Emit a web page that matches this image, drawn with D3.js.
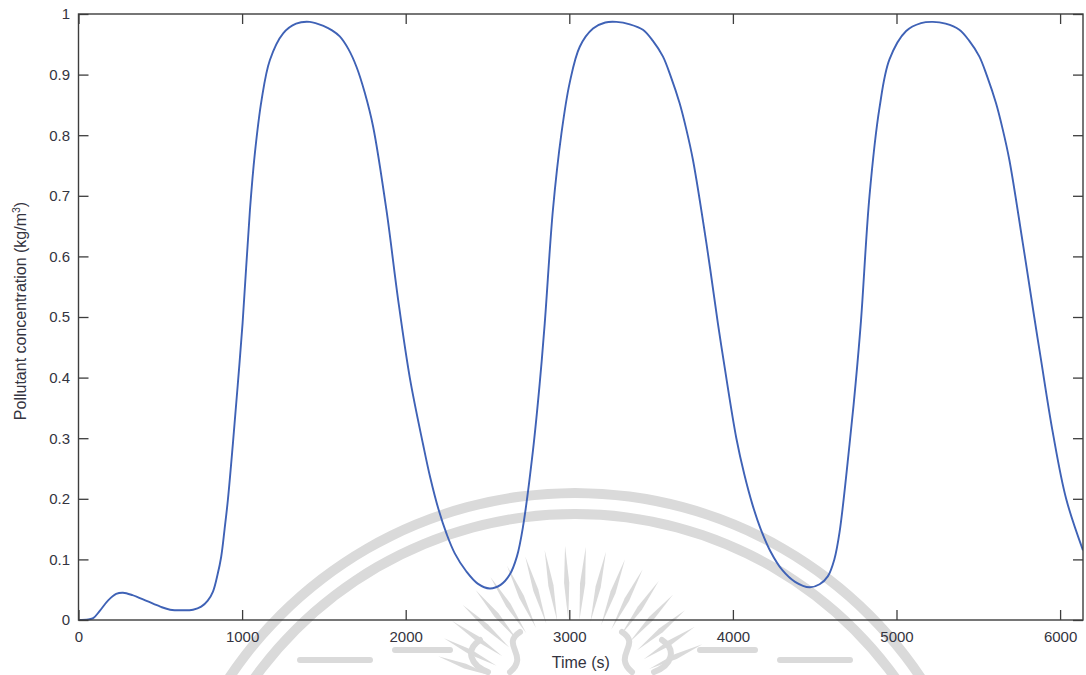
<!DOCTYPE html>
<html>
<head>
<meta charset="utf-8">
<script src="https://cdn.jsdelivr.net/npm/d3@7"></script>
<style>
  html, body { margin: 0; padding: 0; background: #ffffff; }
  svg { display: block; font-family: "Liberation Sans", Arial, Helvetica, sans-serif; }
</style>
</head>
<body>
<svg id="chart" width="1086" height="675"></svg>
<script>
// Simulated pollutant concentration at the outlet over time
const timeSeconds = [
  0, 60, 90, 130, 180, 230, 272, 330, 420, 500, 560, 640, 700, 750, 790, 822,
  850, 872, 893, 913, 944, 974, 1003, 1048, 1078, 1119, 1170, 1251, 1330, 1414,
  1500, 1550, 1597, 1650, 1699, 1750, 1801, 1882, 1954, 2025, 2106, 2150, 2200,
  2250, 2300, 2371, 2440, 2514, 2580, 2636, 2680, 2717, 2778, 2819, 2850, 2900,
  2952, 3002, 3064, 3145, 3220, 3288, 3370, 3450, 3510, 3572, 3620, 3674, 3715,
  3756, 3838, 3908, 3949, 4021, 4070, 4120, 4170, 4230, 4300, 4380, 4469, 4530,
  4580, 4620, 4652, 4713, 4750, 4783, 4835, 4896, 4957, 5059, 5150, 5222, 5300,
  5384, 5444, 5506, 5554, 5608, 5649, 5690, 5772, 5842, 5883, 5955, 6037, 6140
];
const concentration = [
  0, 0.001, 0.003, 0.015, 0.032, 0.043, 0.045, 0.041, 0.031, 0.022, 0.017, 0.016, 0.017, 0.022, 0.032, 0.047,
  0.075, 0.104, 0.15, 0.198, 0.292, 0.39, 0.49, 0.677, 0.77, 0.858, 0.924, 0.968, 0.984, 0.987,
  0.98, 0.973, 0.963, 0.942, 0.913, 0.87, 0.814, 0.677, 0.528, 0.40, 0.29, 0.235, 0.183,
  0.142, 0.11, 0.08, 0.06, 0.052, 0.058, 0.075, 0.105, 0.154, 0.28, 0.39, 0.49, 0.677,
  0.803, 0.886, 0.946, 0.976, 0.986, 0.987, 0.983, 0.974, 0.956, 0.93, 0.897, 0.853, 0.81,
  0.759, 0.622, 0.49, 0.418, 0.30, 0.24, 0.19, 0.15, 0.113, 0.083, 0.063, 0.054, 0.059,
  0.072, 0.10, 0.145, 0.29, 0.39, 0.494, 0.70, 0.845, 0.925, 0.972, 0.985, 0.987, 0.984,
  0.974, 0.956, 0.93, 0.897, 0.853, 0.81, 0.759, 0.622, 0.50, 0.43, 0.31, 0.20, 0.115
];
const xTickValues = [0, 1000, 2000, 3000, 4000, 5000, 6000];
const yTickValues = [0, 0.1, 0.2, 0.3, 0.4, 0.5, 0.6, 0.7, 0.8, 0.9, 1];
const xDomain = [0, 6140];
const yDomain = [0, 1];

const svg = d3.select("#chart");
const plot = { left: 78.5, right: 1083, top: 14, bottom: 620 };

const x = d3.scaleLinear().domain(xDomain).range([plot.left, plot.right]);
const y = d3.scaleLinear().domain(yDomain).range([plot.bottom, plot.top]);

// Faint seal printed on the page behind the figure
const sealGrey = "#dadada";
const seal = svg.append("g").attr("fill", sealGrey).attr("stroke", "none");
const sealC = [575, 909];
const band = d3.arc();
[[411, 421], [390, 400]].forEach(([r0, r1]) => {
  seal.append("path")
    .attr("transform", `translate(${sealC[0]},${sealC[1]})`)
    .attr("d", band({ innerRadius: r0, outerRadius: r1, startAngle: -Math.PI / 3, endAngle: Math.PI / 3 }));
});
const rayC = [572, 705];
const rayAngles = d3.range(-70, 70.1, 7.5);
rayAngles.forEach(a => {
  const t = a * Math.PI / 180;
  const r0 = 85, r1 = 160 - Math.abs(a) * 0.25, rm = (r0 + r1) / 2, hw = 2.6;
  const ux = Math.sin(t), uy = -Math.cos(t);
  const px = -uy, py = ux;
  const pts = [
    [rayC[0] + ux * r0, rayC[1] + uy * r0],
    [rayC[0] + ux * rm + px * hw, rayC[1] + uy * rm + py * hw],
    [rayC[0] + ux * r1, rayC[1] + uy * r1],
    [rayC[0] + ux * rm - px * hw, rayC[1] + uy * rm - py * hw]
  ];
  seal.append("path").attr("d", "M" + pts.map(p => p.join(",")).join("L") + "Z");
});
const sealStrokes = seal.append("g").attr("fill", "none").attr("stroke", sealGrey)
  .attr("stroke-width", 6).attr("stroke-linecap", "round");
[[[300, 660], [370, 660]], [[395, 650], [450, 650]], [[700, 650], [755, 650]], [[780, 660], [850, 660]]]
  .forEach(seg => sealStrokes.append("path").attr("d", d3.line()(seg)));
sealStrokes.append("path").attr("d", "M520,632 C500,645 530,655 510,672");
sealStrokes.append("path").attr("d", "M622,632 C642,645 612,655 632,672");
sealStrokes.append("path").attr("d", "M480,640 C465,650 470,665 488,672");
sealStrokes.append("path").attr("d", "M662,640 C677,650 672,665 654,672");

// Data curve
const points = timeSeconds.map((t, i) => [t, concentration[i]]);
const line = d3.line()
  .x(d => x(d[0]))
  .y(d => y(d[1]))
  .curve(d3.curveCatmullRom.alpha(0.5));

svg.append("defs").append("clipPath").attr("id", "plotClip")
  .append("rect")
  .attr("x", plot.left).attr("y", plot.top - 2)
  .attr("width", plot.right - plot.left).attr("height", plot.bottom - plot.top + 4);

svg.append("path")
  .datum(points)
  .attr("clip-path", "url(#plotClip)")
  .attr("fill", "none")
  .attr("stroke", "#3f62b6")
  .attr("stroke-width", 1.9)
  .attr("stroke-linejoin", "round")
  .attr("d", line);

// Axes with inward ticks on all four sides
const axisColor = "#3d3d3d";
const labelColor = "#343440";

const xAxis = svg.append("g")
  .attr("transform", `translate(0,${plot.bottom})`)
  .call(d3.axisBottom(x).tickValues(xTickValues).tickFormat(d3.format("d"))
    .tickSizeInner(-10).tickSizeOuter(0).tickPadding(11));
const yAxis = svg.append("g")
  .attr("transform", `translate(${plot.left},0)`)
  .call(d3.axisLeft(y).tickValues(yTickValues).tickFormat(d => d === 0 || d === 1 ? String(d) : d3.format(".1f")(d))
    .tickSizeInner(-10).tickSizeOuter(0).tickPadding(8.5));
const xTop = svg.append("g")
  .attr("transform", `translate(0,${plot.top})`)
  .call(d3.axisTop(x).tickValues(xTickValues).tickFormat("")
    .tickSizeInner(-10).tickSizeOuter(0));
const yRight = svg.append("g")
  .attr("transform", `translate(${plot.right},0)`)
  .call(d3.axisRight(y).tickValues(yTickValues).tickFormat("")
    .tickSizeInner(-10).tickSizeOuter(0));

[xAxis, yAxis, xTop, yRight].forEach(g => {
  g.select(".domain").remove();
  g.selectAll(".tick line").attr("stroke", axisColor).attr("stroke-width", 1.3);
  g.selectAll(".tick text").attr("fill", labelColor).attr("font-size", 15)
    .attr("font-family", "'Liberation Sans', Arial, sans-serif");
});

svg.append("rect")
  .attr("x", plot.left).attr("y", plot.top)
  .attr("width", plot.right - plot.left).attr("height", plot.bottom - plot.top)
  .attr("fill", "none").attr("stroke", axisColor).attr("stroke-width", 1.4);

// Axis titles
svg.append("text")
  .attr("x", (plot.left + plot.right) / 2)
  .attr("y", 668)
  .attr("text-anchor", "middle")
  .attr("font-size", 16)
  .attr("fill", labelColor)
  .text("Time (s)");

const yTitle = svg.append("text")
  .attr("transform", `translate(26,${(plot.top + plot.bottom) / 2 - 6}) rotate(-90)`)
  .attr("text-anchor", "middle")
  .attr("font-size", 16)
  .attr("fill", labelColor);
yTitle.append("tspan").text("Pollutant concentration (kg/m");
yTitle.append("tspan").attr("font-size", 10.5).attr("dy", -6).text("3");
yTitle.append("tspan").attr("dy", 6).text(")");
</script>
</body>
</html>
